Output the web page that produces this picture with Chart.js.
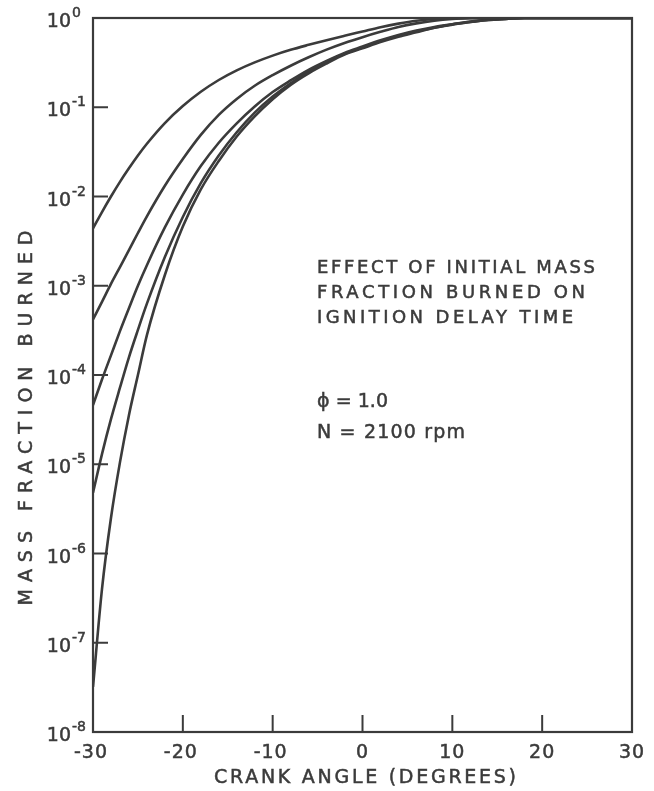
<!DOCTYPE html>
<html>
<head>
<meta charset="utf-8">
<script src="https://cdn.jsdelivr.net/npm/chart.js@4/dist/chart.umd.min.js"></script>
<style>
  html, body { margin: 0; padding: 0; background: #fff; }
  #wrap { width: 654px; height: 791px; }
</style>
</head>
<body>
<div id="wrap"><canvas id="chart"></canvas></div>
<script>
// crank angle (degrees) shared by every curve
const angles = [-30, -29, -28, -27, -26, -25, -24, -22, -20, -18, -16, -14, -12, -10, -8, -6, -4, -2, 0, 2, 4, 6, 8, 10, 12, 14, 16, 18, 20, 25, 30]

// mass fraction burned, one array per initial mass fraction (top curve first)
const burned1 = [4.4e-3, 6.7e-3, 0.0100, 0.0146, 0.0207, 0.0288, 0.0390, 0.0665, 0.103, 0.149, 0.202, 0.259, 0.318, 0.379, 0.440, 0.500, 0.564, 0.632, 0.706, 0.789, 0.865, 0.931, 0.975, 0.995, 1, 1, 1, 1, 1, 1, 1]
const burned2 = [4.2e-4, 6.6e-4, 1.05e-3, 1.62e-3, 2.5e-3, 3.9e-3, 6.0e-3, 0.0132, 0.0263, 0.0490, 0.0822, 0.124, 0.174, 0.229, 0.292, 0.363, 0.442, 0.525, 0.610, 0.700, 0.794, 0.871, 0.933, 0.973, 0.993, 1, 1, 1, 1, 1, 1]
const burned3 = [4.6e-5, 8.9e-5, 1.66e-4, 3.1e-4, 5.6e-4, 1.0e-3, 1.7e-3, 4.5e-3, 0.0105, 0.0219, 0.040, 0.066, 0.102, 0.148, 0.200, 0.263, 0.331, 0.407, 0.479, 0.562, 0.646, 0.724, 0.794, 0.851, 0.912, 0.955, 0.982, 1, 1, 1, 1]
const burned4 = [4.8e-6, 1.3e-5, 3.2e-5, 7.2e-5, 1.58e-4, 3.2e-4, 6.3e-4, 2.1e-3, 5.9e-3, 0.0141, 0.0288, 0.0525, 0.087, 0.132, 0.186, 0.251, 0.324, 0.398, 0.468, 0.550, 0.631, 0.708, 0.776, 0.851, 0.902, 0.951, 0.977, 1, 1, 1, 1]
const burned5 = [3.2e-8, 4.0e-7, 2.5e-6, 1.05e-5, 3.55e-5, 1.0e-4, 2.8e-4, 1.32e-3, 4.6e-3, 0.012, 0.025, 0.047, 0.079, 0.123, 0.178, 0.240, 0.309, 0.389, 0.457, 0.537, 0.617, 0.692, 0.776, 0.841, 0.902, 0.951, 0.977, 1, 1, 1, 1]

const xTicks = [-30, -20, -10, 0, 10, 20, 30]
const yExponents = [0, -1, -2, -3, -4, -5, -6, -7, -8]

const xTitle = 'CRANK ANGLE (DEGREES)'
const yTitle = 'MASS FRACTION BURNED'
const noteLines = ['EFFECT OF INITIAL MASS', 'FRACTION BURNED ON', 'IGNITION DELAY TIME']
const condLines = ['\u03d5 = 1.0', 'N = 2100 rpm']

const ink = '#3b3b3b'
const font = '"DejaVu Sans", "Liberation Sans", sans-serif'

const series = [burned1, burned2, burned3, burned4, burned5]

// fill + a thin stroke so the lettering looks a bit heavier
function ink_text(ctx, text, x, y) {
    ctx.fillText(text, x, y)
    ctx.lineWidth = 0.5
    ctx.strokeText(text, x, y)
}

// draw text stretched to a given width using letter spacing
function spacedText(ctx, text, x, y, width, align) {
    ctx.letterSpacing = '0px'
    const natural = ctx.measureText(text).width
    const gap = Math.max(0, (width - natural) / Math.max(1, text.length - 1))
    ctx.letterSpacing = gap + 'px'
    let startX = x
    if (align === 'center') startX = x - width / 2
    ctx.textAlign = 'left'
    ink_text(ctx, text, startX, y)
    ctx.letterSpacing = '0px'
}

const decor = {
    id: 'decor',
    afterDraw(chart) {
        const ctx = chart.ctx
        const area = chart.chartArea
        const xs = chart.scales.x
        const ys = chart.scales.y
        ctx.save()
        ctx.strokeStyle = ink
        ctx.fillStyle = ink
        ctx.textBaseline = 'alphabetic'

        // frame
        ctx.lineWidth = 2.2
        ctx.strokeRect(area.left, area.top, area.right - area.left, area.bottom - area.top)

        // inward ticks on the left axis + labels
        yExponents.forEach(e => {
            const py = ys.getPixelForValue(Math.pow(10, e))
            if (e !== 0 && e !== -8) {
                ctx.lineWidth = 2
                ctx.beginPath()
                ctx.moveTo(area.left, py)
                ctx.lineTo(area.left + 15, py)
                ctx.stroke()
            }
            ctx.font = '19px ' + font
            ctx.textAlign = 'right'
            ink_text(ctx, '10', 71, py + 9)
            ctx.font = '14px ' + font
            ctx.textAlign = 'left'
            ink_text(ctx, String(e), 72, py - 1)
        })

        // inward ticks on the bottom axis + labels
        xTicks.forEach(v => {
            const px = xs.getPixelForValue(v)
            if (v !== -30 && v !== 30) {
                ctx.lineWidth = 2
                ctx.beginPath()
                ctx.moveTo(px, area.bottom)
                ctx.lineTo(px, area.bottom - 17)
                ctx.stroke()
            }
            ctx.font = '19px ' + font
            ctx.textAlign = 'center'
            ctx.letterSpacing = '1px'
            const label = v < 0 ? '-' + Math.abs(v) : String(v)
            ink_text(ctx, label, px - (v < 0 ? 2 : 0), 758)
            ctx.letterSpacing = '0px'
        })

        // axis titles
        ctx.font = '19px ' + font
        spacedText(ctx, xTitle, 365, 783, 302, 'center')
        ctx.save()
        ctx.translate(32, 418)
        ctx.rotate(-Math.PI / 2)
        spacedText(ctx, yTitle, 0, 0, 375, 'center')
        ctx.restore()

        // annotation
        ctx.font = '18px ' + font
        const widths = [278, 268, 256]
        noteLines.forEach((t, i) => spacedText(ctx, t, 317, 273 + i * 25, widths[i], 'left'))
        ctx.font = '19px ' + font
        spacedText(ctx, condLines[0], 317, 407, 71, 'left')
        spacedText(ctx, condLines[1], 317, 438, 148, 'left')
        ctx.restore()
    }
}

const ctx = document.getElementById('chart').getContext('2d')
new Chart(ctx, {
    type: 'line',
    data: {
        datasets: series.map(vals => ({
            data: angles.map((a, i) => ({ x: a, y: vals[i] })),
            borderColor: ink,
            borderWidth: 2.6,
            pointRadius: 0,
            fill: false,
            cubicInterpolationMode: 'monotone'
        }))
    },
    options: {
        responsive: true,
        maintainAspectRatio: false,
        animation: false,
        layout: { padding: { top: 18, right: 22, left: 0, bottom: 0 } },
        plugins: { legend: { display: false }, tooltip: { enabled: false } },
        scales: {
            x: {
                type: 'linear',
                min: -30,
                max: 30,
                ticks: { display: false },
                grid: { display: false },
                border: { display: false },
                afterFit: scale => { scale.height = 59 }
            },
            y: {
                type: 'logarithmic',
                min: 1e-8,
                max: 1,
                ticks: { display: false },
                grid: { display: false },
                border: { display: false },
                afterFit: scale => { scale.width = 93 }
            }
        }
    },
    plugins: [decor]
})
</script>
</body>
</html>
